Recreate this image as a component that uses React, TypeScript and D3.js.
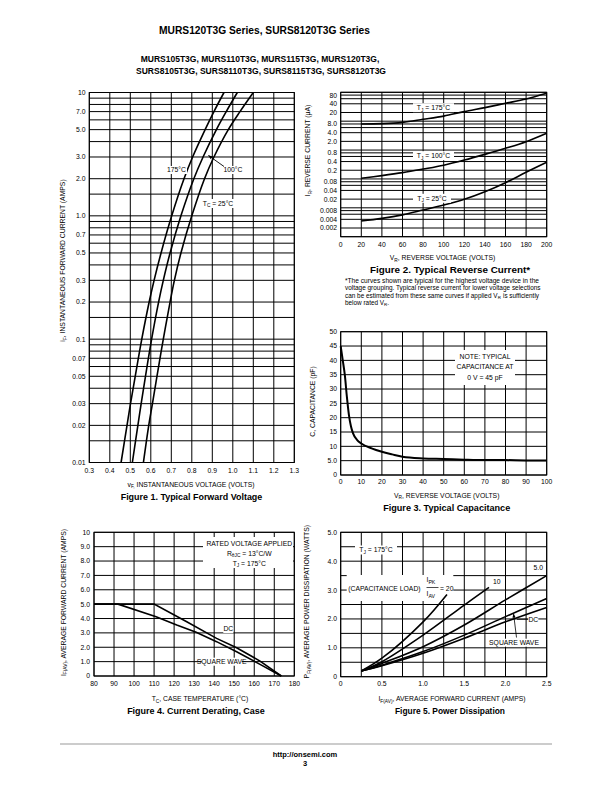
import React from 'react';
import * as d3 from 'd3';

const NARROW = "'Liberation Sans Narrow', 'Liberation Sans', Arial, sans-serif";
const SANS = "'Liberation Sans', Arial, sans-serif";

// ---------------- Figure 1: Typical Forward Voltage
const f1Current = [0.01, 0.02, 0.03, 0.05, 0.1, 0.2, 0.3, 0.5, 1, 2, 3, 5, 7, 10];
const f1V175 = [0.455, 0.484, 0.501, 0.524, 0.556, 0.592, 0.616, 0.65, 0.702, 0.762, 0.804, 0.865, 0.908, 0.957];
const f1V100 = [0.51, 0.537, 0.553, 0.574, 0.604, 0.638, 0.661, 0.694, 0.747, 0.81, 0.855, 0.92, 0.968, 1.022];
const f1V25 = [0.564, 0.59, 0.608, 0.63, 0.661, 0.694, 0.715, 0.747, 0.8, 0.862, 0.908, 0.978, 1.035, 1.1];
const f1XTicks = [0.3, 0.4, 0.5, 0.6, 0.7, 0.8, 0.9, 1.0, 1.1, 1.2, 1.3];
const f1YTickVals = [0.01, 0.02, 0.03, 0.05, 0.07, 0.1, 0.2, 0.3, 0.5, 0.7, 1, 2, 3, 5, 7, 10];
const f1YTickLabels = ['0.01', '0.02', '0.03', '0.05', '0.07', '0.1', '0.2', '0.3', '0.5', '0.7', '1.0', '2.0', '3.0', '5.0', '7.0', '10'];
const f1GridMantissa = [1, 1.5, 2, 3, 4, 5, 6, 7, 8, 9];

// ---------------- Figure 2: Typical Reverse Current
const f2Vr = [20, 40, 60, 80, 100, 120, 140, 160, 180, 200];
const f2I175 = [8.0, 8.2, 9.1, 11.6, 15, 21.4, 29.4, 41.6, 58.6, 92];
const f2I100 = [0.105, 0.13, 0.165, 0.22, 0.3, 0.45, 0.71, 1.15, 1.95, 3.8];
const f2I25 = [0.0035, 0.0043, 0.0057, 0.0084, 0.0125, 0.0198, 0.036, 0.074, 0.17, 0.376];
const f2XTicks = [0, 20, 40, 60, 80, 100, 120, 140, 160, 180, 200];
const f2YTickVals = [0.002, 0.004, 0.008, 0.02, 0.04, 0.08, 0.2, 0.4, 0.8, 2, 4, 8, 20, 40, 80];
const f2YTickLabels = ['0.002', '0.004', '0.008', '0.02', '0.04', '0.08', '0.2', '0.4', '0.8', '2.0', '4.0', '8.0', '20', '40', '80'];
const f2GridMantissa = [1, 2, 4, 6, 8];
const f2Note = [
  '*The curves shown are typical for the highest voltage device in the',
  'voltage grouping. Typical reverse current for lower voltage selections',
  'can be estimated from these same curves if applied V',
  'is sufficiently',
  'below rated V',
];

// ---------------- Figure 3: Typical Capacitance
const f3V = [0, 1, 2, 3, 4, 5, 6, 8, 10, 15, 20, 25, 30, 40, 50, 60, 70, 80, 90, 100];
const f3C = [45, 40, 34.9, 27.3, 20.9, 16.9, 14.5, 12.2, 11.0, 9.3, 8.1, 7.2, 6.4, 5.8, 5.6, 5.35, 5.2, 5.2, 5.1, 5.1];
const f3XTicks = [0, 10, 20, 30, 40, 50, 60, 70, 80, 90, 100];
const f3YTicks = [0, 5, 10, 15, 20, 25, 30, 35, 40, 45, 50];
const f3YTickLabels = ['0', '5.0', '10', '15', '20', '25', '30', '35', '40', '45', '50'];

// ---------------- Figure 4: Current Derating, Case
const f4DcT = [80, 110, 126.3, 141.2, 151.2, 162.9, 173.5];
const f4DcI = [5, 5, 3.78, 2.62, 1.97, 1.04, 0];
const f4SqT = [80, 92, 111, 121.3, 131, 141.2, 151.2, 162.9, 173.5];
const f4SqI = [5, 5, 4.13, 3.55, 3.04, 2.39, 1.69, 0.81, 0];
const f4XTicks = [80, 90, 100, 110, 120, 130, 140, 150, 160, 170, 180];
const f4YTicks = [0, 1, 2, 3, 4, 5, 6, 7, 8, 9, 10];
const f4YTickLabels = ['0', '1.0', '2.0', '3.0', '4.0', '5.0', '6.0', '7.0', '8.0', '9.0', '10'];

// ---------------- Figure 5: Power Dissipation
const f5I20 = [0.25, 0.5, 1.0, 1.29];
const f5P20 = [0.2, 0.64, 1.9, 2.85];
const f5I10 = [0.25, 0.5, 1.0, 1.5, 1.8];
const f5P10 = [0.2, 0.52, 1.44, 2.48, 3.09];
const f5I = [0.25, 0.5, 1.0, 1.5, 2.0, 2.5];
const f5P5 = [0.2, 0.46, 1.04, 1.79, 2.66, 3.5];
const f5PSq = [0.2, 0.4, 0.87, 1.44, 2.08, 2.71];
const f5PDc = [0.2, 0.38, 0.81, 1.33, 1.9, 2.4];
const f5XGrid = [0, 0.25, 0.5, 0.75, 1, 1.25, 1.5, 1.75, 2, 2.25, 2.5];
const f5XTicks = [0, 0.5, 1, 1.5, 2, 2.5];
const f5XTickLabels = ['0', '0.5', '1.0', '1.5', '2.0', '2.5'];
const f5YGrid = [0, 0.5, 1, 1.5, 2, 2.5, 3, 3.5, 4, 4.5, 5];
const f5YTicks = [0, 1, 2, 3, 4, 5];
const f5YTickLabels = ['0', '1.0', '2.0', '3.0', '4.0', '5.0'];

const TICK = 6.8;
const TITLE = 6.8;

type Sc = (v: number) => number;

function Grid({ x, y, xs, ys, sw = 1 }: { x: any; y: any; xs: number[]; ys: number[]; sw?: number }) {
  const [x0, x1] = x.range();
  const [y0, y1] = y.range();
  return (
    <g stroke="#000" strokeWidth={sw} fill="none">
      {xs.map((v, i) => (
        <line key={'gx' + i} x1={x(v)} x2={x(v)} y1={y0} y2={y1} />
      ))}
      {ys.map((v, i) => (
        <line key={'gy' + i} x1={x0} x2={x1} y1={y(v)} y2={y(v)} />
      ))}
      <rect x={x0} y={Math.min(y0, y1)} width={x1 - x0} height={Math.abs(y0 - y1)} />
    </g>
  );
}

function XTicks({ x, yPos, vals, labels }: { x: Sc; yPos: number; vals: number[]; labels: string[] }) {
  return (
    <g fontFamily={NARROW} fontSize={TICK} textAnchor="middle">
      {vals.map((v, i) => (
        <text key={i} x={x(v)} y={yPos}>
          {labels[i]}
        </text>
      ))}
    </g>
  );
}

function YTicks({ y, xPos, vals, labels }: { y: Sc; xPos: number; vals: number[]; labels: string[] }) {
  return (
    <g fontFamily={NARROW} fontSize={TICK} textAnchor="end">
      {vals.map((v, i) => (
        <text key={i} x={xPos} y={y(v)} dy="0.36em">
          {labels[i]}
        </text>
      ))}
    </g>
  );
}

function Label({ x, y, w, h = 8, children, size = TICK }: { x: number; y: number; w: number; h?: number; children: any; size?: number }) {
  return (
    <g>
      <rect x={x - w / 2} y={y - h / 2} width={w} height={h} fill="#fff" />
      <text x={x} y={y} dy="0.36em" textAnchor="middle" fontFamily={NARROW} fontSize={size}>
        {children}
      </text>
    </g>
  );
}

export default function App() {
  // Figure 1
  const x1 = d3.scaleLinear().domain([0.3, 1.3]).range([89.3, 294.3]);
  const y1 = d3.scaleLog().domain([0.01, 10]).range([462.5, 92.5]);
  const f1Grid: number[] = [];
  [0.01, 0.1, 1].forEach((d) => f1GridMantissa.forEach((m) => f1Grid.push(m * d)));
  f1Grid.push(10);
  const line1 = (vs: number[]) =>
    d3
      .line<number>()
      .x((d, i) => x1(vs[i]))
      .y((d) => y1(d))
      .curve(d3.curveCatmullRom)(f1Current) as string;

  // Figure 2
  const x2 = d3.scaleLinear().domain([0, 200]).range([340.7, 546.7]);
  const y2 = d3.scaleLog().domain([0.001, 100]).range([236.7, 92.3]);
  const f2Grid: number[] = [];
  [0.001, 0.01, 0.1, 1, 10].forEach((d) => f2GridMantissa.forEach((m) => f2Grid.push(m * d)));
  f2Grid.push(100);
  const line2 = (is: number[]) =>
    d3
      .line<number>()
      .x((d) => x2(d))
      .y((d, i) => y2(is[i]))
      .curve(d3.curveCatmullRom)(f2Vr) as string;

  // Figure 3
  const x3 = d3.scaleLinear().domain([0, 100]).range([340.7, 546.7]);
  const y3 = d3.scaleLinear().domain([0, 50]).range([475, 331.7]);
  const line3 = d3
    .line<number>()
    .x((d) => x3(d))
    .y((d, i) => y3(f3C[i]))
    .curve(d3.curveMonotoneX)(f3V) as string;

  // Figure 4
  const x4 = d3.scaleLinear().domain([80, 180]).range([94, 294.3]);
  const y4 = d3.scaleLinear().domain([0, 10]).range([676, 532.3]);
  const line4 = (ts: number[], is: number[]) =>
    d3
      .line<number>()
      .x((d) => x4(d))
      .y((d, i) => y4(is[i]))(ts) as string;

  // Figure 5
  const x5 = d3.scaleLinear().domain([0, 2.5]).range([340.7, 546.7]);
  const y5 = d3.scaleLinear().domain([0, 5]).range([676.7, 532.3]);
  const line5 = (is: number[], ps: number[]) =>
    d3
      .line<number>()
      .x((d) => x5(d))
      .y((d, i) => y5(ps[i]))
      .curve(d3.curveCatmullRom)(is) as string;

  const curve = { fill: 'none', stroke: '#000', strokeWidth: 1.6 };

  return (
    <svg
      width={612}
      height={792}
      viewBox="0 0 612 792"
      style={{ position: 'absolute', left: 0, top: 0, background: '#fff' }}
    >
      <defs>
        <marker id="arr" viewBox="0 0 10 10" refX="9" refY="5" markerWidth="5" markerHeight="5" orient="auto">
          <path d="M0,1 L10,5 L0,9 z" fill="#000" />
        </marker>
      </defs>
      <rect x={0} y={0} width={612} height={792} fill="#fff" />

      {/* Header */}
      <g fontFamily={NARROW} fontWeight="bold" textAnchor="middle">
        <text x={264.5} y={34} fontSize={11.5} textLength={211} lengthAdjust="spacingAndGlyphs">
          MURS120T3G Series, SURS8120T3G Series
        </text>
        <text x={260} y={61.7} fontSize={9.2} textLength={238.6} lengthAdjust="spacingAndGlyphs">
          MURS105T3G, MURS110T3G, MURS115T3G, MURS120T3G,
        </text>
        <text x={261} y={74} fontSize={9.2} textLength={250} lengthAdjust="spacingAndGlyphs">
          SURS8105T3G, SURS8110T3G, SURS8115T3G, SURS8120T3G
        </text>
      </g>

      {/* ---------------- Figure 1 */}
      <Grid x={x1} y={y1} xs={f1XTicks} ys={f1Grid} />
      <path d={line1(f1V175)} {...curve} />
      <path d={line1(f1V100)} {...curve} />
      <path d={line1(f1V25)} {...curve} />
      <Label x={176.5} y={170} w={21}>175°C</Label>
      <Label x={233} y={170} w={21}>100°C</Label>
      <line x1={224} y1={166.5} x2={208.5} y2={155.5} stroke="#000" strokeWidth={0.9} markerEnd="url(#arr)" />
      <g>
        <rect x={202} y={199} width={32} height={9} fill="#fff" />
        <text x={218} y={203.3} dy="0.36em" textAnchor="middle" fontFamily={NARROW} fontSize={TICK}>
          T<tspan fontSize={4.8} dy={1.5}>C</tspan>
          <tspan dy={-1.5}> = 25°C</tspan>
        </text>
      </g>
      <YTicks y={y1} xPos={85.5} vals={f1YTickVals} labels={f1YTickLabels} />
      <XTicks x={x1} yPos={472.5} vals={f1XTicks} labels={f1XTicks.map((v) => v.toFixed(1))} />
      <text transform="translate(65,260.5) rotate(-90)" textAnchor="middle" fontFamily={NARROW} fontSize={TITLE}>
        i<tspan fontSize={4.8} dy={1.5}>F</tspan>
        <tspan dy={-1.5}>, INSTANTANEOUS FORWARD CURRENT (AMPS)</tspan>
      </text>
      <text x={191} y={486.5} textAnchor="middle" fontFamily={NARROW} fontSize={TITLE}>
        v<tspan fontSize={4.8} dy={1.5}>F,</tspan>
        <tspan dy={-1.5}> INSTANTANEOUS VOLTAGE (VOLTS)</tspan>
      </text>
      <text x={191.5} y={500} textAnchor="middle" fontFamily={SANS} fontWeight="bold" fontSize={8.2} textLength={141.6} lengthAdjust="spacingAndGlyphs">
        Figure 1. Typical Forward Voltage
      </text>

      {/* ---------------- Figure 2 */}
      <Grid x={x2} y={y2} xs={f2XTicks} ys={f2Grid} />
      <path d={line2(f2I175)} {...curve} />
      <path d={line2(f2I100)} {...curve} />
      <path d={line2(f2I25)} {...curve} />
      {[
        { y: 107.7, t: ' = 175°C', w: 41 },
        { y: 155.7, t: ' = 100°C', w: 41 },
        { y: 198.3, t: ' = 25°C', w: 38 },
      ].map((l, i) => (
        <g key={i}>
          <rect x={413} y={l.y - 4.5} width={l.w} height={9} fill="#fff" />
          <text x={413 + l.w / 2} y={l.y} dy="0.36em" textAnchor="middle" fontFamily={NARROW} fontSize={TICK}>
            T<tspan fontSize={4.8} dy={1.5}>J</tspan>
            <tspan dy={-1.5}>{l.t}</tspan>
          </text>
        </g>
      ))}
      <YTicks y={y2} xPos={337} vals={f2YTickVals} labels={f2YTickLabels} />
      <XTicks x={x2} yPos={246.5} vals={f2XTicks} labels={f2XTicks.map(String)} />
      <text transform="translate(310,150.5) rotate(-90)" textAnchor="middle" fontFamily={NARROW} fontSize={TITLE}>
        I<tspan fontSize={4.8} dy={1.5}>R</tspan>
        <tspan dy={-1.5}>, REVERSE CURRENT (μA)</tspan>
      </text>
      <text x={442.5} y={260} textAnchor="middle" fontFamily={NARROW} fontSize={TITLE}>
        V<tspan fontSize={4.8} dy={1.5}>R</tspan>
        <tspan dy={-1.5}>, REVERSE VOLTAGE (VOLTS)</tspan>
      </text>
      <text x={450} y={272.5} textAnchor="middle" fontFamily={SANS} fontWeight="bold" fontSize={8.2} textLength={160} lengthAdjust="spacingAndGlyphs">
        Figure 2. Typical Reverse Current*
      </text>
      <g fontFamily={NARROW} fontSize={6.4}>
        <text x={345} y={282.5} textLength={194} lengthAdjust="spacingAndGlyphs">{f2Note[0]}</text>
        <text x={345} y={290} textLength={195.5} lengthAdjust="spacingAndGlyphs">{f2Note[1]}</text>
        <text x={345} y={297.5} textLength={152.5} lengthAdjust="spacingAndGlyphs">{f2Note[2]}</text>
        <text x={497.8} y={298.8} fontSize={4.4}>R</text>
        <text x={503} y={297.5} textLength={36} lengthAdjust="spacingAndGlyphs">{f2Note[3]}</text>
        <text x={345} y={305}>
          {f2Note[4]}
          <tspan fontSize={4.4} dy={1.3}>R</tspan>
          <tspan dy={-1.3}>.</tspan>
        </text>
      </g>

      {/* ---------------- Figure 3 */}
      <Grid x={x3} y={y3} xs={f3XTicks} ys={f3YTicks} />
      <rect x={455} y={350} width={60} height={35} fill="#fff" />
      <g fontFamily={NARROW} fontSize={TICK} textAnchor="middle">
        <text x={485} y={359}>NOTE: TYPICAL</text>
        <text x={485} y={369}>CAPACITANCE AT</text>
        <text x={485} y={380}>0 V = 45 pF</text>
      </g>
      <path d={line3} fill="none" stroke="#000" strokeWidth={2} />
      <YTicks y={y3} xPos={337} vals={f3YTicks} labels={f3YTickLabels} />
      <XTicks x={x3} yPos={483.5} vals={f3XTicks} labels={f3XTicks.map(String)} />
      <text transform="translate(315,401.5) rotate(-90)" textAnchor="middle" fontFamily={NARROW} fontSize={TITLE}>
        C, CAPACITANCE (pF)
      </text>
      <text x={446.7} y={497.5} textAnchor="middle" fontFamily={NARROW} fontSize={TITLE}>
        V<tspan fontSize={4.8} dy={1.5}>R</tspan>
        <tspan dy={-1.5}>, REVERSE VOLTAGE (VOLTS)</tspan>
      </text>
      <text x={446.7} y={511} textAnchor="middle" fontFamily={SANS} fontWeight="bold" fontSize={8.2} textLength={127} lengthAdjust="spacingAndGlyphs">
        Figure 3. Typical Capacitance
      </text>

      {/* ---------------- Figure 4 */}
      <Grid x={x4} y={y4} xs={f4XTicks} ys={f4YTicks} />
      <rect x={203} y={537} width={90} height={31} fill="#fff" />
      <g fontFamily={NARROW} fontSize={TICK} textAnchor="middle">
        <text x={249.3} y={545.8}>RATED VOLTAGE APPLIED</text>
        <text x={249.3} y={555.8}>
          R<tspan fontSize={4.8} dy={1.5}>θJC</tspan>
          <tspan dy={-1.5}> = 13°C/W</tspan>
        </text>
        <text x={249.3} y={565.8}>
          T<tspan fontSize={4.8} dy={1.5}>J</tspan>
          <tspan dy={-1.5}> = 175°C</tspan>
        </text>
      </g>
      <path d={line4(f4DcT, f4DcI)} {...curve} />
      <path d={line4(f4SqT, f4SqI)} {...curve} />
      <Label x={228.3} y={629} w={10}>DC</Label>
      <Label x={221.7} y={661.7} w={40}>SQUARE WAVE</Label>
      <YTicks y={y4} xPos={90} vals={f4YTicks} labels={f4YTickLabels} />
      <XTicks x={x4} yPos={686} vals={f4XTicks} labels={f4XTicks.map(String)} />
      <text transform="translate(65.5,602.5) rotate(-90)" textAnchor="middle" fontFamily={NARROW} fontSize={TITLE}>
        I<tspan fontSize={4.8} dy={1.5}>F(AV)</tspan>
        <tspan dy={-1.5}>, AVERAGE FORWARD CURRENT (AMPS)</tspan>
      </text>
      <text x={200} y={701} textAnchor="middle" fontFamily={NARROW} fontSize={TITLE}>
        T<tspan fontSize={4.8} dy={1.5}>C</tspan>
        <tspan dy={-1.5}>, CASE TEMPERATURE (°C)</tspan>
      </text>
      <text x={196} y={714} textAnchor="middle" fontFamily={SANS} fontWeight="bold" fontSize={8.2} textLength={137.7} lengthAdjust="spacingAndGlyphs">
        Figure 4. Current Derating, Case
      </text>

      {/* ---------------- Figure 5 */}
      <Grid x={x5} y={y5} xs={f5XGrid} ys={f5YGrid} />
      <rect x={355} y={545.5} width={42} height={9} fill="#fff" />
      <text x={376} y={550} dy="0.36em" textAnchor="middle" fontFamily={NARROW} fontSize={TICK}>
        T<tspan fontSize={4.8} dy={1.5}>J</tspan>
        <tspan dy={-1.5}> = 175°C</tspan>
      </text>
      <rect x={346.7} y={575} width={106.6} height={26} fill="#fff" />
      <g fontFamily={NARROW} fontSize={TICK}>
        <text x={348.3} y={590.5}>(CAPACITANCE LOAD)</text>
        <text x={426.5} y={582}>
          I<tspan fontSize={5.2} dy={1.5}>PK</tspan>
        </text>
        <line x1={426.5} x2={438.5} y1={587.5} y2={587.5} stroke="#000" strokeWidth={0.7} />
        <text x={426.5} y={596}>
          I<tspan fontSize={5.2} dy={1.5}>AV</tspan>
        </text>
        <text x={440} y={590.5}>= 20</text>
      </g>
      <path d={line5(f5I20, f5P20)} {...curve} />
      <path d={line5(f5I10, f5P10)} {...curve} />
      <path d={line5(f5I, f5P5)} {...curve} />
      <path d={line5(f5I, f5PSq)} {...curve} />
      <path d={line5(f5I, f5PDc)} {...curve} />
      <Label x={496.7} y={581.7} w={9}>10</Label>
      <Label x={538.3} y={567.3} w={11}>5.0</Label>
      <line x1={517} y1={619.3} x2={528} y2={619.3} stroke="#000" strokeWidth={0.8} />
      <Label x={533.3} y={619.3} w={10}>DC</Label>
      <line x1={516.5} y1={637.5} x2={513.6} y2={614} stroke="#000" strokeWidth={0.8} markerEnd="url(#arr)" />
      <Label x={514} y={642.7} w={48}>SQUARE WAVE</Label>
      <YTicks y={y5} xPos={337} vals={f5YTicks} labels={f5YTickLabels} />
      <XTicks x={x5} yPos={686} vals={f5XTicks} labels={f5XTickLabels} />
      <text transform="translate(309,601.7) rotate(-90)" textAnchor="middle" fontFamily={NARROW} fontSize={TITLE}>
        P<tspan fontSize={4.8} dy={1.5}>F(AV)</tspan>
        <tspan dy={-1.5}>, AVERAGE POWER DISSIPATION (WATTS)</tspan>
      </text>
      <text x={452} y={701} textAnchor="middle" fontFamily={NARROW} fontSize={TITLE}>
        I<tspan fontSize={4.8} dy={1.5}>F(AV)</tspan>
        <tspan dy={-1.5}>, AVERAGE FORWARD CURRENT (AMPS)</tspan>
      </text>
      <text x={450} y={714} textAnchor="middle" fontFamily={SANS} fontWeight="bold" fontSize={8.2} textLength={110} lengthAdjust="spacingAndGlyphs">
        Figure 5. Power Dissipation
      </text>

      {/* Footer */}
      <line x1={60} x2={552} y1={744} y2={744} stroke="#bbb" strokeWidth={1.5} />
      <g fontFamily={SANS} fontWeight="bold" fontSize={7.5} textAnchor="middle">
        <text x={305} y={756.5}>http://onsemi.com</text>
        <text x={305} y={765.5}>3</text>
      </g>
    </svg>
  );
}
